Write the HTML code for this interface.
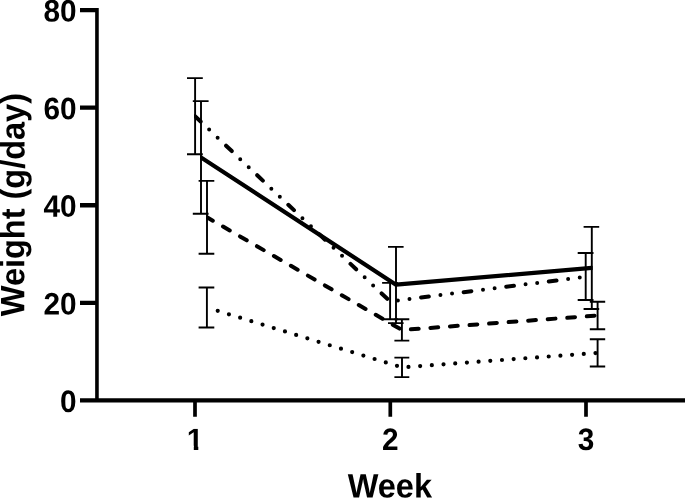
<!DOCTYPE html>
<html>
<head>
<meta charset="utf-8">
<title>Weight by Week</title>
<style>
html,body{margin:0;padding:0;background:#fff;}
body{width:685px;height:498px;overflow:hidden;}
svg{display:block;}
text{font-family:"Liberation Sans",Arial,Helvetica,sans-serif;font-weight:bold;fill:#000;}
.tick{font-size:29.8px;}
.title{font-size:32.5px;}
.ax{stroke:#000;fill:none;stroke-linecap:butt;}
.eb{stroke:#000;stroke-width:1.9;fill:none;}
.ln{stroke:#000;stroke-width:4.2;fill:none;stroke-linecap:round;stroke-linejoin:round;}
</style>
</head>
<body>
<svg width="685" height="498" viewBox="0 0 685 498">
<defs>
<clipPath id="c1"><rect x="194.1" y="0" width="392.6" height="498"/></clipPath>
<clipPath id="c2"><rect x="200.1" y="0" width="392.6" height="498"/></clipPath>
<clipPath id="c3"><rect x="206.1" y="0" width="392.5" height="498"/></clipPath>
<clipPath id="one"><path d="M-12 -20.2 H3.3 V3 H-1.2 V-4 H-12 Z"/></clipPath>
</defs>
<rect x="0" y="0" width="685" height="498" fill="#fff"/>
<!-- axes -->
<path class="ax" stroke-width="3.6" d="M96.95 8 V400.4"/>
<path class="ax" stroke-width="4.3" d="M80 400.4 H685"/>
<!-- y ticks -->
<path class="ax" stroke-width="4.3" d="M80 10.15 H97 M80 107.7 H97 M80 205.25 H97 M80 302.8 H97"/>
<!-- x ticks -->
<path class="ax" stroke-width="3.7" d="M195 400.4 V416.8 M390.3 400.4 V416.8 M586 400.4 V416.8"/>
<!-- y tick labels -->
<g class="tick" text-anchor="end">
<text transform="translate(76.6 21.6) rotate(0.03) scale(1 1.041)">80</text>
<text transform="translate(76.6 119.2) rotate(0.03) scale(1 1.041)">60</text>
<text transform="translate(76.6 216.8) rotate(0.03) scale(1 1.041)">40</text>
<text transform="translate(76.6 314.4) rotate(0.03) scale(1 1.041)">20</text>
<text transform="translate(76.6 411.9) rotate(0.03) scale(1 1.041)">0</text>
</g>
<!-- x tick labels -->
<g class="tick" text-anchor="middle">
<text transform="translate(195 449.9) rotate(0.03) scale(1 1.041)" clip-path="url(#one)">1</text>
<text transform="translate(390.3 449.9) rotate(0.03) scale(1 1.041)">2</text>
<text transform="translate(586 449.9) rotate(0.03) scale(1 1.041)">3</text>
</g>
<!-- axis titles -->
<text class="title" text-anchor="middle" transform="translate(389.8 497.5) rotate(0.03) scale(1 1.041)">Week</text>
<text class="title" text-anchor="middle" transform="translate(24.4 204.6) rotate(-89.97) scale(1 1.041)">Weight (g/day)</text>
<!-- series lines -->
<g clip-path="url(#c1)"><polyline class="ln" style="stroke-width:4" stroke-dasharray="7.8 11.7 0 11.7 0 11.7" points="195,116.15 390,301.4 585.7,276.8"/></g>
<g clip-path="url(#c2)"><polyline class="ln" points="201,157.4 396,284.7 591.8,267.95"/></g>
<g clip-path="url(#c3)"><polyline class="ln" style="stroke-width:4" stroke-dasharray="7.8 11.8" stroke-dashoffset="1.1" points="207,217.35 402,330 597.6,315.5"/></g>
<g clip-path="url(#c3)"><polyline class="ln" stroke-dasharray="0 11.72" stroke-dashoffset="0.5" points="207,307.55 402,367.4 597.6,352.9"/></g>
<!-- error bars -->
<g class="eb">
<path d="M195.1 78.1 V154.2 M187 78.1 H202.8 M187 154.2 H202.8"/>
<path d="M390.1 282.9 V319.3 M382.1 282.9 H397.9 M382.1 319.3 H397.9"/>
<path d="M585.7 253 V300 M577.7 253 H593.5 M577.7 300 H593.5"/>
<path d="M201 101.1 V213.7 M192.8 101.1 H208.6 M192.8 213.7 H208.6"/>
<path d="M396 246.9 V323.15 M388 246.9 H403.6 M388 323.15 H403.6"/>
<path d="M591.8 226.9 V309 M583.6 226.9 H599.2 M583.6 309 H599.2"/>
<path d="M207 180.9 V253.8 M198.6 180.9 H214.3 M198.6 253.8 H214.3"/>
<path d="M401.9 319.3 V340.65 M394.4 319.3 H409.3 M394.4 340.65 H409.3"/>
<path d="M597.6 301.8 V329.2 M589.8 301.8 H605.2 M589.8 329.2 H605.2"/>
<path d="M206.9 287.55 V327.5 M198.6 287.55 H214.3 M198.6 327.5 H214.3"/>
<path d="M402 357.65 V377.1 M394.4 357.65 H409.3 M394.4 377.1 H409.3"/>
<path d="M597.6 339.25 V366.5 M589.8 339.25 H605.2 M589.8 366.5 H605.2"/>
</g>
</svg>
</body>
</html>
